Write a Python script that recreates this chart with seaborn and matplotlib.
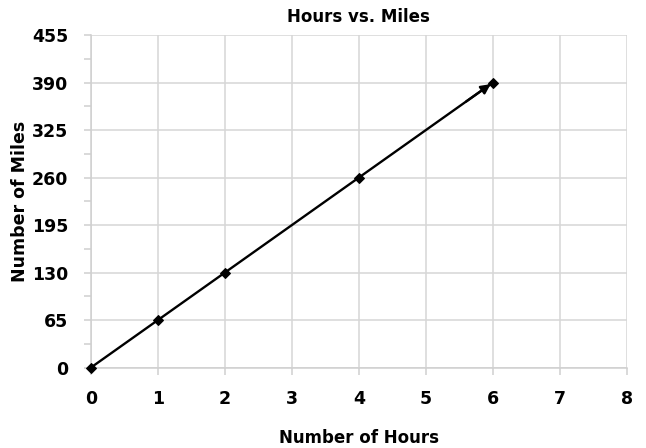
import matplotlib
matplotlib.use("Agg")
import matplotlib.pyplot as plt
import seaborn as sns
import pandas as pd
from matplotlib.ticker import MultipleLocator

hours = [0, 1, 2, 4, 6]
miles = [0, 65, 130, 260, 390]
x_ticks = [0, 1, 2, 3, 4, 5, 6, 7, 8]
y_ticks = [0, 65, 130, 195, 260, 325, 390, 455]

sns.set_theme(style="white")
plt.rcParams["font.family"] = ["DejaVu Sans"]
plt.rcParams["text.color"] = "black"
plt.rcParams["axes.labelcolor"] = "black"

df = pd.DataFrame({"Number of Hours": hours, "Number of Miles": miles})

fig = plt.figure(figsize=(6.46, 4.48), dpi=100)
ax = fig.add_axes([0.1404, 0.1792, 0.8302, 0.7427])

sns.lineplot(data=df, x="Number of Hours", y="Number of Miles", ax=ax,
             color="black", linewidth=1.7, marker="D", markersize=5,
             markeredgecolor="black", zorder=3, clip_on=False)

# arrowhead at the end of the line
ax.annotate("", xy=(hours[-1], miles[-1]),
            xytext=(hours[-2] + 0.8 * (hours[-1] - hours[-2]),
                    miles[-2] + 0.8 * (miles[-1] - miles[-2])),
            arrowprops=dict(arrowstyle="-|>", color="black", lw=1.7,
                            mutation_scale=14, shrinkA=0, shrinkB=2),
            zorder=4)

ax.set_xlim(x_ticks[0], x_ticks[-1])
ax.set_ylim(y_ticks[0], y_ticks[-1])
ax.set_xticks(x_ticks)
ax.set_yticks(y_ticks)
ax.yaxis.set_minor_locator(MultipleLocator(32.5))
ax.grid(True, which="major", color="#d6d6d6", linewidth=1.1)

for s in ["top", "right"]:
    ax.spines[s].set_visible(False)
ax.spines["left"].set_color("#cfcfcf")
ax.spines["bottom"].set_color("#cfcfcf")
ax.spines["left"].set_linewidth(1.1)
ax.spines["bottom"].set_linewidth(1.1)

ax.tick_params(axis="both", which="major", length=5, width=1.1, color="#cfcfcf",
               labelcolor="black", labelsize=12.5, left=True, bottom=True)
ax.tick_params(axis="x", which="major", pad=11)
ax.tick_params(axis="y", which="major", pad=11)
ax.tick_params(axis="y", which="minor", length=5, width=1.1, color="#cfcfcf", left=True)
for lab in ax.get_xticklabels() + ax.get_yticklabels():
    lab.set_fontweight("bold")

ax.set_title("Hours vs. Miles", fontsize=12, fontweight="bold", pad=9, color="black")
ax.set_xlabel("Number of Hours", fontsize=12, fontweight="bold", labelpad=15)
ax.set_ylabel("Number of Miles", fontsize=12.5, fontweight="bold", labelpad=2)

fig.savefig("out.png", dpi=100)
